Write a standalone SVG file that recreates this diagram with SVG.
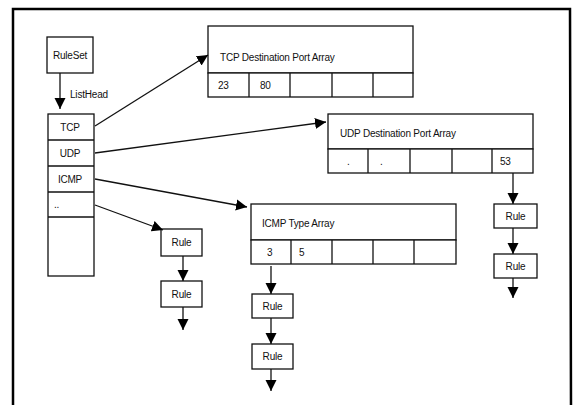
<svg xmlns="http://www.w3.org/2000/svg" width="578" height="405" viewBox="0 0 578 405">
  <style>
    .box { fill: #fff; stroke: #111; stroke-width: 1.3; }
    .frame { fill: none; stroke: #000; stroke-width: 2.5; }
    .lbl { font-family: "Liberation Sans", Arial, sans-serif; font-size: 10px; fill: #111; letter-spacing: -0.2px; }
    .conn { fill: none; stroke: #111; stroke-width: 1.3; }
  </style>
  <defs>
    <marker id="ah" markerUnits="userSpaceOnUse" markerWidth="12" markerHeight="12" refX="11" refY="6" orient="auto">
      <path d="M0,0.5 L11,6 L0,11.5 Z" fill="#000"/>
    </marker>
  </defs>

  <rect x="0" y="0" width="578" height="405" fill="#fff"/>
  <!-- outer frame, open at the bottom -->
  <path class="frame" d="M13,410 L13,9 L570,9 L571,410"/>

  <g id="ruleset">
    <rect class="box" x="47" y="37" width="46" height="36"/>
    <text class="lbl" x="70" y="59" text-anchor="middle">RuleSet</text>
  </g>

  <g id="protocol-list">
    <rect class="box" x="48" y="114" width="46" height="162"/>
    <line class="conn" x1="48" y1="140" x2="94" y2="140"/>
    <line class="conn" x1="48" y1="166" x2="94" y2="166"/>
    <line class="conn" x1="48" y1="192" x2="94" y2="192"/>
    <line class="conn" x1="48" y1="217" x2="94" y2="217"/>
    <text class="lbl" x="70" y="131" text-anchor="middle">TCP</text>
    <text class="lbl" x="70" y="157" text-anchor="middle">UDP</text>
    <text class="lbl" x="70" y="183" text-anchor="middle">ICMP</text>
    <text class="lbl" x="54" y="208">..</text>
  </g>

  <g id="tcp-array">
    <rect class="box" x="208" y="26" width="205" height="47"/>
    <rect class="box" x="208" y="73" width="205" height="24"/>
    <line class="conn" x1="249" y1="73" x2="249" y2="97"/>
    <line class="conn" x1="290" y1="73" x2="290" y2="97"/>
    <line class="conn" x1="332" y1="73" x2="332" y2="97"/>
    <line class="conn" x1="373" y1="73" x2="373" y2="97"/>
    <text class="lbl" x="220" y="61">TCP Destination Port Array</text>
    <text class="lbl" x="218" y="89">23</text>
    <text class="lbl" x="260" y="89">80</text>
  </g>

  <g id="udp-array">
    <rect class="box" x="328" y="114" width="205" height="35"/>
    <rect class="box" x="328" y="149" width="205" height="24"/>
    <line class="conn" x1="368" y1="149" x2="368" y2="173"/>
    <line class="conn" x1="410" y1="149" x2="410" y2="173"/>
    <line class="conn" x1="452" y1="149" x2="452" y2="173"/>
    <line class="conn" x1="492" y1="149" x2="492" y2="173"/>
    <text class="lbl" x="340" y="137">UDP Destination Port Array</text>
    <text class="lbl" x="347" y="165">.</text>
    <text class="lbl" x="380" y="165">.</text>
    <text class="lbl" x="500" y="165">53</text>
  </g>

  <g id="icmp-array">
    <rect class="box" x="251" y="204" width="205" height="36"/>
    <rect class="box" x="251" y="240" width="205" height="24"/>
    <line class="conn" x1="291" y1="240" x2="291" y2="264"/>
    <line class="conn" x1="332" y1="240" x2="332" y2="264"/>
    <line class="conn" x1="373" y1="240" x2="373" y2="264"/>
    <line class="conn" x1="414" y1="240" x2="414" y2="264"/>
    <text class="lbl" x="262" y="227">ICMP Type Array</text>
    <text class="lbl" x="267" y="256">3</text>
    <text class="lbl" x="299" y="256">5</text>
  </g>

  <g id="rule-other-1">
    <rect class="box" x="161" y="229" width="41" height="27"/>
    <text class="lbl" x="181.5" y="246" text-anchor="middle">Rule</text>
  </g>
  <g id="rule-other-2">
    <rect class="box" x="161" y="281" width="41" height="26"/>
    <text class="lbl" x="181.5" y="298" text-anchor="middle">Rule</text>
  </g>

  <g id="rule-icmp-1">
    <rect class="box" x="252" y="294" width="41" height="24"/>
    <text class="lbl" x="272.5" y="310" text-anchor="middle">Rule</text>
  </g>
  <g id="rule-icmp-2">
    <rect class="box" x="252" y="344" width="41" height="25"/>
    <text class="lbl" x="272.5" y="360" text-anchor="middle">Rule</text>
  </g>

  <g id="rule-udp-1">
    <rect class="box" x="494" y="204" width="43" height="24"/>
    <text class="lbl" x="515.5" y="220" text-anchor="middle">Rule</text>
  </g>
  <g id="rule-udp-2">
    <rect class="box" x="494" y="254" width="43" height="24"/>
    <text class="lbl" x="515.5" y="270" text-anchor="middle">Rule</text>
  </g>

  <g id="connectors">
    <line class="conn" x1="60" y1="73" x2="60" y2="109" marker-end="url(#ah)"/>
    <text class="lbl" x="70" y="98">ListHead</text>

    <line class="conn" x1="95" y1="126" x2="208" y2="55" marker-end="url(#ah)"/>
    <line class="conn" x1="95" y1="153" x2="326" y2="122" marker-end="url(#ah)"/>
    <line class="conn" x1="95" y1="179" x2="247" y2="207" marker-end="url(#ah)"/>
    <line class="conn" x1="95" y1="205" x2="163" y2="230" marker-end="url(#ah)"/>

    <line class="conn" x1="183" y1="256" x2="183" y2="281" marker-end="url(#ah)"/>
    <line class="conn" x1="183" y1="307" x2="183" y2="330" marker-end="url(#ah)"/>

    <line class="conn" x1="271" y1="266" x2="271" y2="294" marker-end="url(#ah)"/>
    <line class="conn" x1="271" y1="318" x2="271" y2="344" marker-end="url(#ah)"/>
    <line class="conn" x1="271" y1="369" x2="271" y2="391" marker-end="url(#ah)"/>

    <line class="conn" x1="513" y1="173" x2="513" y2="204" marker-end="url(#ah)"/>
    <line class="conn" x1="513" y1="228" x2="513" y2="254" marker-end="url(#ah)"/>
    <line class="conn" x1="513" y1="278" x2="513" y2="298" marker-end="url(#ah)"/>
  </g>
</svg>
